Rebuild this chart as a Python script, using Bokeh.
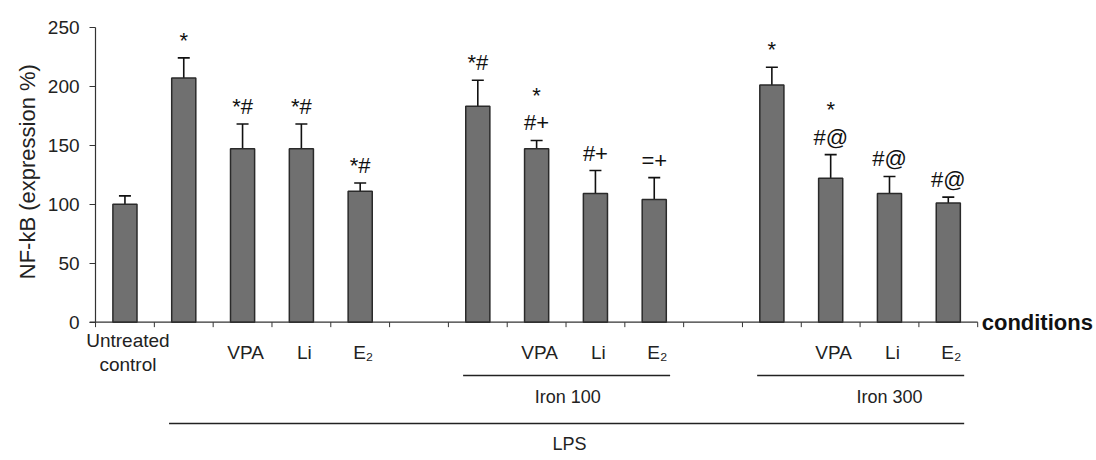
import numpy as np
from bokeh.plotting import figure
from bokeh.models import (ColumnDataSource, Range1d, LinearAxis, FixedTicker,
                          Whisker, TeeHead)
from bokeh.core.properties import value
from bokeh.embed import file_html
from bokeh.resources import INLINE

# ---------------- data ----------------
conditions = ["Untreated control", "LPS", "LPS + VPA", "LPS + Li", "LPS + E2",
              "LPS + Iron 100", "LPS + Iron 100 + VPA", "LPS + Iron 100 + Li",
              "LPS + Iron 100 + E2", "LPS + Iron 300", "LPS + Iron 300 + VPA",
              "LPS + Iron 300 + Li", "LPS + Iron 300 + E2"]
tick_labels = ["Untreated\ncontrol", "", "VPA", "Li", "E\u2082",
               "", "VPA", "Li", "E\u2082",
               "", "VPA", "Li", "E\u2082"]
nfkb = [100, 207, 147, 147, 111, 183, 147, 109, 104, 201, 122, 109, 101]
err = [7, 17, 21, 21, 7, 22, 7, 19.5, 18.5, 15, 20, 14.5, 5]
marks = ["", "*", "*#", "*#", "*#", "*#", "*\n#+", "#+", "=+", "*", "*\n#@", "#@", "#@"]
group_of_bar = [0, 0, 0, 0, 0, 1, 1, 1, 1, 2, 2, 2, 2]
y_ticks = [0, 50, 100, 150, 200, 250]
y_title = "NF-kB (expression %)"
x_title = "conditions"
# brackets: label, first bar, last bar
brackets = [("Iron 100", 5, 8), ("Iron 300", 9, 12), ("LPS", 1, 12)]

# ---------------- layout helpers ----------------
slots = [i + g for i, g in enumerate(group_of_bar)]   # one empty slot between groups
n_slots = slots[-1] + 1
FONT = "Liberation Sans"
TXT = "#222222"
TICK_ROW = -25.7   # y (data units) of the x tick-label row

p = figure(width=1096, height=460,
           x_range=Range1d(-2.116, 16.52), y_range=Range1d(-117.2, 272.6),
           output_backend="svg", toolbar_location=None,
           x_axis_type=None, y_axis_type=None,
           min_border_left=0, min_border_right=0, min_border_top=0, min_border_bottom=0)
p.outline_line_color = None
p.background_fill_color = "white"
p.border_fill_color = "white"

# y axis (real axis, pinned at the left edge of the first slot)
yaxis = LinearAxis(ticker=FixedTicker(ticks=y_ticks), bounds=(0, 250), fixed_location=-0.5)
yaxis.axis_line_color = "#333333"
yaxis.axis_line_width = 1.2
yaxis.major_tick_line_color = "#333333"
yaxis.major_tick_out = 6
yaxis.major_tick_in = 0
yaxis.minor_tick_line_color = None
yaxis.major_label_standoff = 10
yaxis.major_label_text_font = FONT
yaxis.major_label_text_font_size = "19px"
yaxis.major_label_text_color = TXT
p.add_layout(yaxis, "left")

# y axis title (rotated), centred on the 0-250 span
p.text(x=[-0.5], y=[125], text=[y_title], angle=np.pi / 2, x_offset=-68, y_offset=-3,
       text_align="center", text_baseline="middle",
       text_font=value(FONT), text_font_size="22px", text_color=TXT)

# bars
src = ColumnDataSource(dict(
    x=slots, top=nfkb, upper=[v + e for v, e in zip(nfkb, err)],
    lower=[v - e for v, e in zip(nfkb, err)], mark=marks,
    label=tick_labels, row=[TICK_ROW] * len(slots), name=conditions))
p.vbar(x="x", top="top", bottom=0, width=0.41, source=src,
       fill_color="#707070", line_color="#2a2a2a", line_width=1.5)

p.add_layout(Whisker(source=src, base="x", upper="upper", lower="lower",
                     line_color="#111111", line_width=1.6,
                     upper_head=TeeHead(size=12, line_color="#111111", line_width=1.6),
                     lower_head=TeeHead(size=12, line_color="#111111", line_width=1.6)))

# significance marks
p.text(x="x", y="upper", text="mark", source=src, y_offset=-5,
       text_align="center", text_baseline="bottom", text_line_height=1.1,
       text_font=value(FONT), text_font_size="22px", text_color="#111111")

# x axis drawn at y = 0
p.segment(x0=[-0.6], y0=[0], x1=[n_slots - 0.5], y1=[0], line_color="#333333", line_width=1.2)
bounds = np.arange(-0.5, n_slots, 1.0)
p.segment(x0=bounds, y0=np.zeros_like(bounds), x1=bounds, y1=np.full_like(bounds, -4.2),
          line_color="#333333", line_width=1)
p.text(x="x", y="row", text="label", source=src, x_offset=3,
       text_align="center", text_baseline="middle", text_line_height=1.15,
       text_font=value(FONT), text_font_size="19px", text_color=TXT)
p.text(x=[n_slots - 0.5], y=[0], text=[x_title], x_offset=4,
       text_align="left", text_baseline="middle",
       text_font=value(FONT), text_font_size="22px", text_font_style="bold", text_color="#111111")

# group brackets
row_line = {"Iron 100": -45.2, "Iron 300": -45.2, "LPS": -85.8}
row_text = {"Iron 100": -63.8, "Iron 300": -63.8, "LPS": -102.8}
label_shift = {"Iron 100": 0.03, "Iron 300": 0.5, "LPS": 0.06}
for name, a, b in brackets:
    x0, x1 = slots[a] - 0.25, slots[b] + 0.27
    p.segment(x0=[x0], y0=[row_line[name]], x1=[x1], y1=[row_line[name]],
              line_color="#222222", line_width=1.6)
    p.text(x=[(slots[a] + slots[b]) / 2 + label_shift[name]], y=[row_text[name]], text=[name],
           text_align="center", text_baseline="middle",
           text_font=value(FONT), text_font_size="18px", text_color=TXT)

open("out.html", "w").write(file_html(p, INLINE))
